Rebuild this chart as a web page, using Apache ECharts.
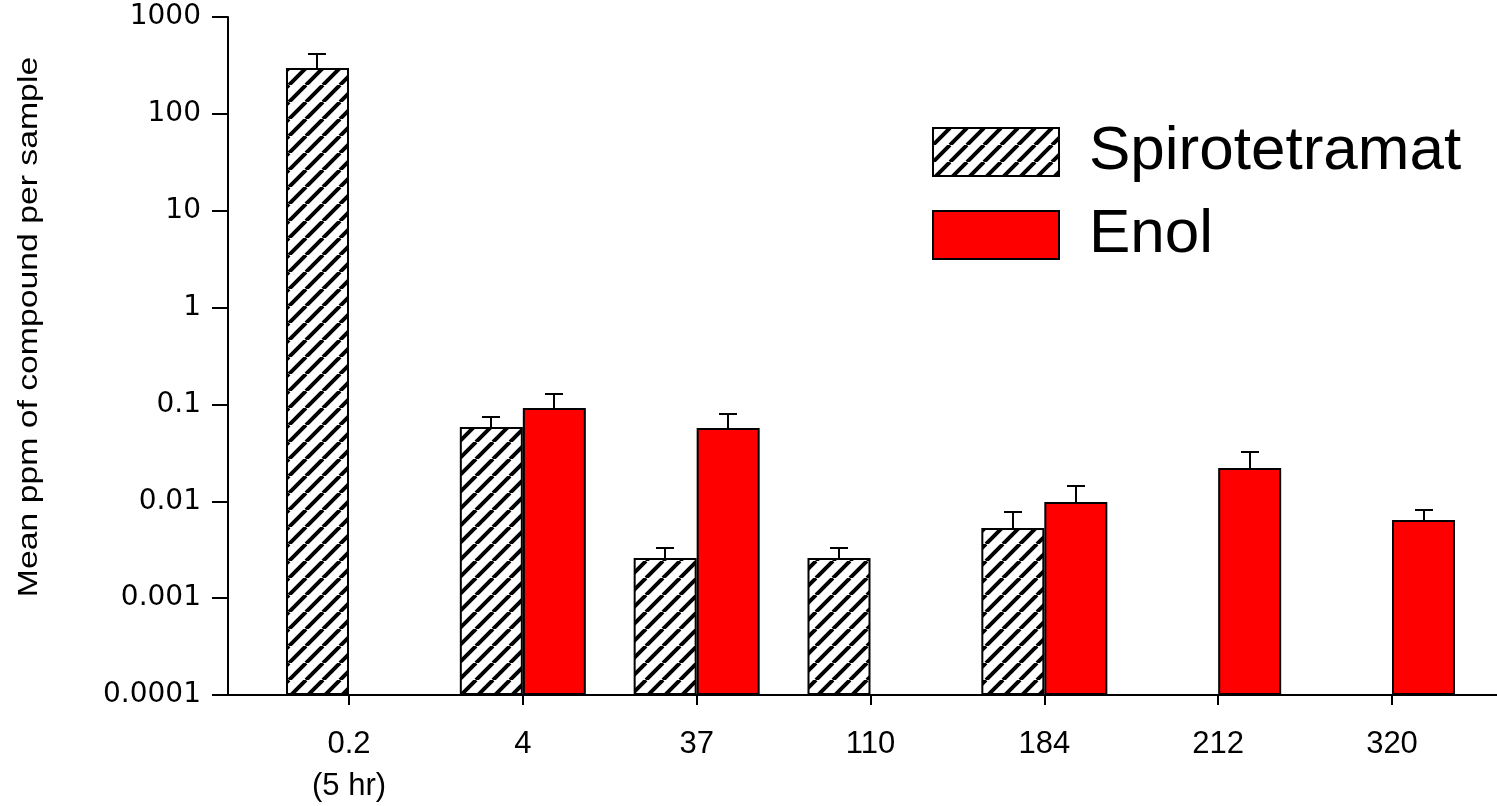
<!DOCTYPE html>
<html>
<head>
<meta charset="utf-8">
<script src="https://cdn.jsdelivr.net/npm/echarts@6/dist/echarts.min.js"></script>
<style>
  html, body { margin: 0; padding: 0; background: #fff; }
  #chart { width: 1497px; height: 806px; }
</style>
</head>
<body>
<div id="chart"></div>
<script>
// Sampling days after application
const days = ['0.2\n(5 hr)', '4', '37', '110', '184', '212', '320'];

// Mean residue (ppm) and upper error (SD) per sampling day
const spirotetramatMean = [297, 0.0585, 0.00259, 0.00259, 0.0053, null, null];
const spirotetramatSD   = [118, 0.0156, 0.00071, 0.00071, 0.00244, null, null];
const enolMean = [null, 0.0918, 0.0571, null, 0.00985, 0.0221, 0.00641];
const enolSD   = [null, 0.036, 0.0225, null, 0.0046, 0.0102, 0.0017];

// Log-scale tick values shown on the y axis
const yTickValues = [0.0001, 0.001, 0.01, 0.1, 1, 10, 100, 1000];

// Diagonal hatch tile used for the Spirotetramat bars
function hatchTile() {
  const s = 17;
  const c = document.createElement('canvas');
  c.width = s; c.height = s;
  const ctx = c.getContext('2d');
  ctx.fillStyle = '#fff';
  ctx.fillRect(0, 0, s, s);
  ctx.strokeStyle = '#000';
  ctx.lineWidth = 4;
  ctx.beginPath();
  for (let k = -1; k <= 1; k++) {
    ctx.moveTo(k * s, s);
    ctx.lineTo(k * s + s, 0);
  }
  ctx.stroke();
  return c;
}

const BAR_W = 63;
const idx = days.map((_, i) => i);

function barData(means) {
  return means.map((m, i) => [i, m == null ? '-' : m]);
}

// Upper whisker with a cap, placed over the left (-1) or right (+1) bar of a group
function errorSeries(name, means, sds, side) {
  const data = [];
  means.forEach((m, i) => { if (m != null) data.push([i, m, m + sds[i]]); });
  return {
    type: 'custom',
    name: name,
    data: data,
    encode: { x: 0, y: [1, 2] },
    z: 5,
    silent: true,
    renderItem: function (params, api) {
      const i = api.value(0);
      const base = api.coord([i, api.value(1)]);
      const top = api.coord([i, api.value(2)]);
      const x = Math.round(base[0] + side * BAR_W / 2);
      const yb = Math.round(base[1]);
      const yt = Math.round(top[1]);
      const st = { stroke: '#000', lineWidth: 2 };
      return {
        type: 'group',
        children: [
          { type: 'line', shape: { x1: x, y1: yb, x2: x, y2: yt }, style: st },
          { type: 'line', shape: { x1: x - 9, y1: yt, x2: x + 9, y2: yt }, style: st }
        ]
      };
    }
  };
}

const chart = echarts.init(document.getElementById('chart'), null, { renderer: 'canvas' });

chart.setOption({
  animation: false,
  backgroundColor: '#fff',
  grid: { left: 228, right: 0, top: 17, bottom: 111, containLabel: false, outerBoundsMode: 'none' },
  legend: {
    data: ['Spirotetramat', 'Enol'],
    orient: 'vertical',
    left: 932,
    top: 121,
    padding: 0,
    icon: 'rect',
    itemWidth: 126,
    itemHeight: 48,
    itemGap: 21,
    selectedMode: false,
    itemStyle: { borderColor: '#000', borderWidth: 2 },
    textStyle: {
      fontFamily: 'Liberation Sans, Arial, sans-serif',
      fontSize: 62,
      lineHeight: 62,
      color: '#000',
      padding: [0, 0, 0, 25]
    }
  },
  xAxis: {
    type: 'value',
    min: -0.696,
    max: 6.604,
    splitLine: { show: false },
    axisLine: { show: true, onZero: false, lineStyle: { color: '#000', width: 2 } },
    axisTick: { show: true, customValues: idx, length: 10, lineStyle: { color: '#000', width: 2 } },
    axisLabel: {
      customValues: idx,
      formatter: v => days[Math.round(v)],
      fontFamily: 'Liberation Sans, Arial, sans-serif',
      fontSize: 31,
      lineHeight: 42,
      margin: 28,
      color: '#000'
    }
  },
  yAxis: {
    type: 'log',
    logBase: 10,
    min: yTickValues[0],
    max: yTickValues[yTickValues.length - 1],
    startValue: yTickValues[0],
    splitNumber: 7,
    splitLine: { show: false },
    axisLine: { show: true, onZero: false, lineStyle: { color: '#000', width: 2 } },
    axisTick: { show: true, length: 16, lineStyle: { color: '#000', width: 2 } },
    axisLabel: {
      formatter: v => {
        const t = yTickValues.find(k => Math.abs(Math.log10(k) - Math.log10(v)) < 1e-6);
        return t == null ? '' : String(t);
      },
      fontFamily: 'DejaVu Sans, sans-serif',
      fontSize: 28,
      margin: 27,
      color: '#000'
    }
  },
  graphic: [{
    type: 'text',
    x: 30,
    y: 327,
    rotation: Math.PI / 2,
    scaleX: 1.25,
    silent: true,
    style: {
      text: 'Mean ppm of compound per sample',
      fontFamily: 'Liberation Sans, Arial, sans-serif',
      fontSize: 27,
      fill: '#000',
      align: 'center',
      verticalAlign: 'middle'
    }
  }],
  series: [
    {
      name: 'Spirotetramat',
      type: 'bar',
      data: barData(spirotetramatMean),
      barWidth: BAR_W,
      barGap: '0%',
      itemStyle: {
        color: { image: hatchTile(), repeat: 'repeat' },
        borderColor: '#000',
        borderWidth: 2
      }
    },
    {
      name: 'Enol',
      type: 'bar',
      data: barData(enolMean),
      barWidth: BAR_W,
      barGap: '0%',
      itemStyle: { color: '#ff0000', borderColor: '#000', borderWidth: 2 }
    },
    errorSeries('Spirotetramat SD', spirotetramatMean, spirotetramatSD, -1),
    errorSeries('Enol SD', enolMean, enolSD, 1)
  ]
});
</script>
</body>
</html>
